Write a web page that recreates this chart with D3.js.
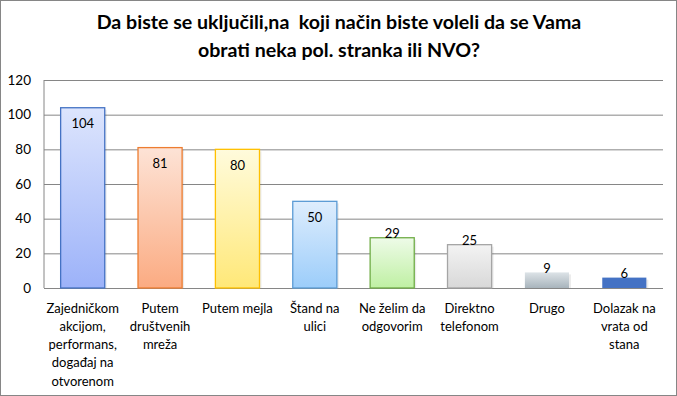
<!DOCTYPE html>
<html>
<head>
    <meta charset="utf-8">
    <script src="https://d3js.org/d3.v7.min.js"></script>
    <style>
        body { margin: 0; background: white; }
        svg text { font-family: Lato, "Open Sans", sans-serif; fill: #000; }
    </style>
</head>
<body>
<script>
    // ****DATA****
    const categories = [
        ["Zajedničkom", "akcijom,", "performans,", "događaj na", "otvorenom"],
        ["Putem", "društvenih", "mreža"],
        ["Putem mejla"],
        ["Štand na", "ulici"],
        ["Ne želim da", "odgovorim"],
        ["Direktno", "telefonom"],
        ["Drugo"],
        ["Dolazak na", "vrata od", "stana"]
    ];
    const values = [104, 81, 80, 50, 29, 25, 9, 6];
    const yTicks = [0, 20, 40, 60, 80, 100, 120];
    const titleLines = ["Da biste se uključili,na  koji način biste voleli da se Vama",
                        "obrati neka pol. stranka ili NVO?"];

    // bar colours: gradient top, gradient bottom, outline
    const barTop = ["#dde5fd", "#fde3d6", "#fffbdc", "#deedfd", "#eefbe8", "#f3f3f3", "#dde3e7", "#4472c4"];
    const barBottom = ["#9cb2f9", "#fbab82", "#ffe878", "#9ccdfa", "#bff0a3", "#d8d8d8", "#a8b4bc", "#4472c4"];
    const barStroke = ["#4472c4", "#ed7d31", "#ffc000", "#5b9bd5", "#70ad47", "#a5a5a5", "none", "none"];

    //****CANVAS****
    const width = 677, height = 396;
    const plot = { left: 44, right: 663, top: 80, bottom: 288 };

    const svg = d3.select('body').append('svg')
        .attr('width', width)
        .attr('height', height);

    svg.append('rect')
        .attr('x', 0.5).attr('y', 0.5)
        .attr('width', width - 1).attr('height', height - 1)
        .attr('fill', 'white')
        .attr('stroke', '#868686');

    const defs = svg.append('defs');
    values.forEach((v, i) => {
        const g = defs.append('linearGradient')
            .attr('id', 'grad' + i)
            .attr('x1', '0%').attr('y1', '0%')
            .attr('x2', '0%').attr('y2', '100%');
        g.append('stop').attr('offset', '0%').attr('stop-color', barTop[i]);
        g.append('stop').attr('offset', '100%').attr('stop-color', barBottom[i]);
    });

    //****SCALES****
    const xScale = d3.scaleBand()
        .domain(d3.range(categories.length))
        .range([plot.left, plot.right])
        .paddingInner(0.43)
        .paddingOuter(0.215);

    const yScale = d3.scaleLinear()
        .domain([0, 120])
        .range([plot.bottom, plot.top]);

    //****GRID + AXES****
    const yAxis = d3.axisLeft(yScale)
        .tickValues(yTicks)
        .tickSize(-(plot.right - plot.left))
        .tickPadding(13);

    const axisG = svg.append('g')
        .attr('transform', `translate(${plot.left},0)`)
        .call(yAxis);
    axisG.select('.domain').remove();
    axisG.selectAll('line').attr('stroke', '#868686');
    axisG.selectAll('text')
        .style('font-family', 'Lato, sans-serif')
        .style('font-size', '13.5px')
        .attr('fill', '#000');

    svg.append('line')
        .attr('x1', plot.left).attr('x2', plot.left)
        .attr('y1', plot.top).attr('y2', plot.bottom)
        .attr('stroke', '#868686');

    //****BARS****
    const bw = xScale.bandwidth();

    // soft shadow
    svg.selectAll('.shadow')
        .data(values)
        .enter()
        .append('rect')
        .attr('class', 'shadow')
        .attr('x', (d, i) => xScale(i) + 2)
        .attr('y', d => yScale(d) + 2)
        .attr('width', bw)
        .attr('height', d => yScale(0) - yScale(d) - 2)
        .attr('fill', '#000')
        .attr('opacity', 0.08);

    svg.selectAll('.bar')
        .data(values)
        .enter()
        .append('rect')
        .attr('class', 'bar')
        .attr('x', (d, i) => xScale(i))
        .attr('y', d => yScale(d))
        .attr('width', bw)
        .attr('height', d => yScale(0) - yScale(d))
        .attr('fill', (d, i) => `url(#grad${i})`)
        .attr('stroke', (d, i) => barStroke[i])
        .attr('stroke-width', 1.3);

    // value labels: inside end for tall bars, above for short ones
    svg.selectAll('.val')
        .data(values)
        .enter()
        .append('text')
        .attr('class', 'val')
        .attr('x', (d, i) => xScale(i) + bw / 2)
        .attr('y', d => d >= 50 ? yScale(d) + 16 : yScale(d) - 4)
        .attr('dy', '0.35em')
        .attr('text-anchor', 'middle')
        .style('font-size', '13px')
        .text(d => d);

    //****CATEGORY LABELS****
    const catG = svg.selectAll('.cat')
        .data(categories)
        .enter()
        .append('text')
        .attr('class', 'cat')
        .attr('text-anchor', 'middle')
        .style('font-size', '13px');

    catG.selectAll('tspan')
        .data((d, i) => d.map(line => ({ line, i })))
        .enter()
        .append('tspan')
        .attr('x', d => xScale(d.i) + bw / 2)
        .attr('y', (d, j) => 308 + j * 18.3)
        .attr('dy', '0.35em')
        .text(d => d.line);

    //****TITLE****
    svg.selectAll('.title')
        .data(titleLines)
        .enter()
        .append('text')
        .attr('class', 'title')
        .attr('x', 339)
        .attr('y', (d, i) => 22 + i * 28)
        .attr('dy', '0.35em')
        .attr('text-anchor', 'middle')
        .style('font-size', '19.6px')
        .style('font-weight', 'bold')
        .style('white-space', 'pre')
        .text(d => d);
</script>
</body>
</html>
